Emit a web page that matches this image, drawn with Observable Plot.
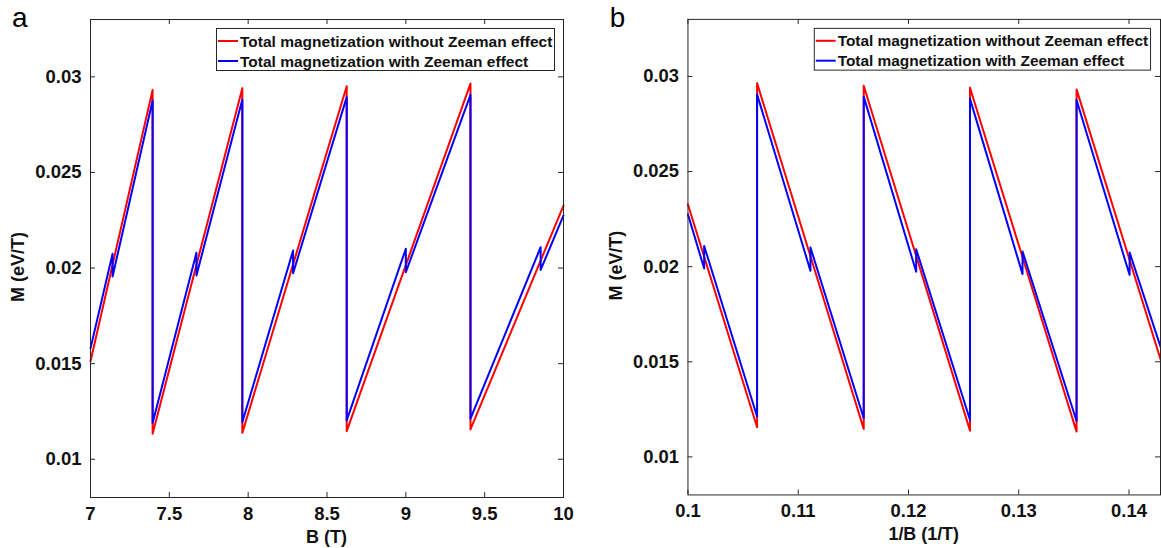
<!DOCTYPE html>
<html><head><meta charset="utf-8">
<script src="https://cdn.jsdelivr.net/npm/d3@7"></script>
<script src="https://cdn.jsdelivr.net/npm/@observablehq/plot@0.6"></script>
<style>
body{margin:0;background:#fff;}
#wrap{position:relative;width:1161px;height:548px;overflow:hidden;display:flex;background:#fff;}
.panel{position:relative;flex:none;overflow:hidden;height:548px;}
</style></head><body><div id="wrap"></div>
<script>
// ---- data ----
// Total magnetization without Zeeman effect (red): breakpoints in B (T)
const B_red = [7, 7.394, 7.394, 7.963, 7.963, 8.625, 8.625, 9.41, 9.41, 10];
const M_red = [0.01513, 0.02932, 0.01133, 0.02941, 0.01138, 0.02951, 0.01147, 0.02965, 0.01156, 0.02327];
// Total magnetization with Zeeman effect (blue)
const B_blue = [7, 7.14, 7.14, 7.394, 7.394, 7.672, 7.672, 7.963, 7.963, 8.285, 8.285, 8.625, 8.625, 9.0, 9.0, 9.41, 9.41, 9.855, 9.855, 10];
const M_blue = [0.0158, 0.02075, 0.01956, 0.02876, 0.01189, 0.0208, 0.01961, 0.02882, 0.01194, 0.02092, 0.01973, 0.02894, 0.01203, 0.02101, 0.01978, 0.02906, 0.01212, 0.02109, 0.0199, 0.02275];
const seriesNames = ["Total magnetization without Zeeman effect", "Total magnetization with Zeeman effect"];
const seriesColors = ["#ff0000", "#0000ff"];
const yTicks = [0.01, 0.015, 0.02, 0.025, 0.03];
const xTicksA = [7, 7.5, 8, 8.5, 9, 9.5, 10];
const xTicksB = [0.1, 0.11, 0.12, 0.13, 0.14];
const yLabel = "M (eV/T)";
const xLabelA = "B (T)";
const xLabelB = "1/B (1/T)";

const FONT = "'Liberation Sans', Arial, Helvetica, sans-serif";
const AX = "#262626";

function panel({divW, svgW, mL, mR, xFn, xDomain, xTicks, xLabel, letter, legendX}) {
  const H = 548, mT = 19, mB = 51;
  const fH = H - mT - mB, fW = svgW - mL - mR;
  const red = B_red.map((b, i) => ({x: xFn(b), y: M_red[i]}));
  const blue = B_blue.map((b, i) => ({x: xFn(b), y: M_blue[i]}));
  const svg = Plot.plot({
    width: svgW, height: H, marginLeft: mL, marginRight: mR, marginTop: mT, marginBottom: mB,
    style: {fontFamily: FONT, fontWeight: "bold", fontSize: "18.5px", color: "#111", background: "white"},
    x: {domain: xDomain, label: null},
    y: {domain: [0.008, 0.033], label: null},
    marks: [
      Plot.line(red, {x: "x", y: "y", stroke: seriesColors[0], strokeWidth: 2}),
      Plot.line(blue, {x: "x", y: "y", stroke: seriesColors[1], strokeWidth: 2}),
      Plot.tickX(xTicks, {x: d => d, insetTop: fH - 5, stroke: AX}),
      Plot.tickX(xTicks, {x: d => d, insetBottom: fH - 5, stroke: AX}),
      Plot.tickY(yTicks, {y: d => d, insetRight: fW - 5, stroke: AX}),
      Plot.tickY(yTicks, {y: d => d, insetLeft: fW - 5, stroke: AX}),
      Plot.frame({stroke: AX, strokeWidth: 1}),
      Plot.axisX({ticks: xTicks, tickSize: 0, tickPadding: 9, tickFormat: d => String(d), label: null}),
      Plot.axisY({ticks: yTicks, tickSize: 0, tickPadding: 9, tickFormat: d => String(d), label: null})
    ]
  });
  const s = d3.select(svg);
  // axis titles
  s.append("text").attr("x", mL + fW / 2).attr("y", 543).attr("text-anchor", "middle")
    .attr("font-family", FONT).attr("font-weight", "bold").attr("font-size", 18).attr("fill", "#111").text(xLabel);
  s.append("text").attr("transform", `translate(${mL - 66},${267}) rotate(-90)`).attr("text-anchor", "middle")
    .attr("font-family", FONT).attr("font-weight", "bold").attr("font-size", 18).attr("fill", "#111").text(yLabel);
  // panel letter
  s.append("text").attr("x", mL - 78).attr("y", 27).attr("text-anchor", "start").attr("font-family", FONT).attr("font-weight", "normal")
    .attr("font-size", 28).attr("fill", "#000").text(letter);
  // legend
  const g = s.append("g");
  g.append("rect").attr("x", legendX + 0.5).attr("y", 28.5).attr("width", 338).attr("height", 42)
    .attr("fill", "white").attr("stroke", AX);
  seriesNames.forEach((name, i) => {
    const y = 41 + i * 20;
    g.append("line").attr("x1", legendX + 2).attr("x2", legendX + 22).attr("y1", y).attr("y2", y)
      .attr("stroke", seriesColors[i]).attr("stroke-width", 2);
    g.append("text").attr("x", legendX + 24).attr("y", y).attr("dy", "0.36em").attr("text-anchor", "start")
      .attr("font-family", FONT).attr("font-weight", "bold").attr("font-size", 15.5).attr("fill", "#111").text(name);
  });
  const div = document.createElement("div");
  div.className = "panel";
  div.style.width = divW + "px";
  div.appendChild(svg);
  document.getElementById("wrap").appendChild(div);
}

panel({divW: 580, svgW: 580, mL: 90, mR: 17, xFn: b => b, xDomain: [7, 10], xTicks: xTicksA, xLabel: xLabelA, letter: "a", legendX: 216});
panel({divW: 581, svgW: 584, mL: 108, mR: 1, xFn: b => 1 / b, xDomain: [0.1, 1 / 7], xTicks: xTicksB, xLabel: xLabelB, letter: "b", legendX: 235});
</script>
</body></html>
